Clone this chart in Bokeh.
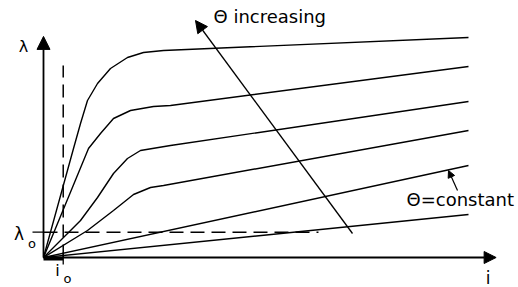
from bokeh.plotting import figure
from bokeh.models import Range1d, Arrow, NormalHead, Label
from bokeh.embed import file_html
from bokeh.resources import INLINE

# ---- data (current i, flux linkage lambda) ----
c1_i = [0.0, 0.706, 0.871, 1.035, 1.271, 1.576, 1.976, 2.353, 2.824, 10.0]
c1_l = [0.0, 4.955, 6.091, 7.136, 7.909, 8.591, 9.091, 9.318, 9.409, 10.0]

c2_i = [0.0, 1.059, 1.341, 1.647, 2.047, 2.588, 2.988, 10.0]
c2_l = [0.0, 4.955, 5.636, 6.318, 6.682, 6.864, 6.909, 8.682]

c3_i = [0.0, 0.871, 1.271, 1.647, 1.976, 2.282, 2.988, 10.0]
c3_l = [0.0, 1.682, 2.727, 3.818, 4.500, 4.864, 5.091, 7.091]

c4_i = [0.0, 1.035, 1.647, 2.118, 2.518, 2.824, 10.0]
c4_l = [0.0, 1.227, 2.136, 2.864, 3.182, 3.273, 5.773]

c5_i = [0.0, 10.0]
c5_l = [0.0, 4.182]

c6_i = [0.0, 10.0]
c6_l = [0.0, 1.955]

curves_i = [c1_i, c2_i, c3_i, c4_i, c5_i, c6_i]
curves_l = [c1_l, c2_l, c3_l, c4_l, c5_l, c6_l]

i0 = 0.464          # i_o
lam0 = 1.15         # lambda_o
lam_dash_top = 8.73
lam0_dash_end = 6.47
i_axis_max = 10.65
lam_axis_max = 10.05

# pixel helpers for annotation placement (canvas starts at the window's top-left)
SX, SY, OX, OY = 42.5, 22.0, 43.0, 257.0
W, H = 518, 287
def X(px):
    return (px - OX) / SX
def Y(py):
    return (OY - py) / SY

p = figure(width=W, height=H, output_backend="svg", toolbar_location=None,
           x_range=Range1d(X(0), X(W)), y_range=Range1d(Y(H), Y(0)),
           x_axis_location=None, y_axis_location=None, min_border=0,
           background_fill_color="white", border_fill_color="white",
           outline_line_color=None)
p.xgrid.visible = False
p.ygrid.visible = False

for xs, ys in zip(curves_i, curves_l):
    p.line(xs, ys, line_color="black", line_width=1.4)

# dashed reference lines
p.line([i0, i0], [0, lam_dash_top], line_color="black", line_width=1.5, line_dash="13 7")
p.line([0, lam0_dash_end], [lam0, lam0], line_color="black", line_width=1.5, line_dash="14 7")
# small solid ticks
p.line([X(32), 0], [lam0, lam0], line_color="black", line_width=1.3)
p.line([i0, i0], [Y(252), Y(264)], line_color="black", line_width=1.3)
p.line([0, i0], [Y(258.5), Y(258.5)], line_color="black", line_width=3)

# axes with arrow heads
p.add_layout(Arrow(end=NormalHead(size=13, fill_color="black", line_color="black"),
                   x_start=0, y_start=0, x_end=0, y_end=lam_axis_max,
                   line_color="black", line_width=1.8))
p.add_layout(Arrow(end=NormalHead(size=12, fill_color="black", line_color="black"),
                   x_start=0, y_start=0, x_end=i_axis_max, y_end=0,
                   line_color="black", line_width=1.8))

# theta increasing arrow
p.add_layout(Arrow(end=NormalHead(size=12, fill_color="black", line_color="black"),
                   x_start=X(352), y_start=Y(233), x_end=X(195), y_end=Y(20),
                   line_color="black", line_width=1.3))
# theta constant arrow
p.add_layout(Arrow(end=NormalHead(size=7, fill_color="black", line_color="black"),
                   x_start=X(457), y_start=Y(190), x_end=X(448), y_end=Y(170),
                   line_color="black", line_width=1.2))

F = "DejaVu Sans"
def lab(txt, px, py, size, align="center"):
    p.add_layout(Label(x=X(px), y=Y(py), text=txt, text_font=F, text_font_size=size,
                       text_align=align, text_baseline="middle", text_color="black"))

lab("λ", 23, 46, "16px")
lab("λ", 18.5, 233.5, "17px")
lab("o", 31.5, 243, "13px")
lab("i", 57, 270, "16px")
lab("o", 67, 278, "13px")
lab("i", 487.5, 277, "17px")
lab("Θ increasing", 213, 16, "18px", "left")
lab("Θ=constant", 406, 199, "18px", "left")

open("out.html", "w").write(file_html(p, INLINE))
